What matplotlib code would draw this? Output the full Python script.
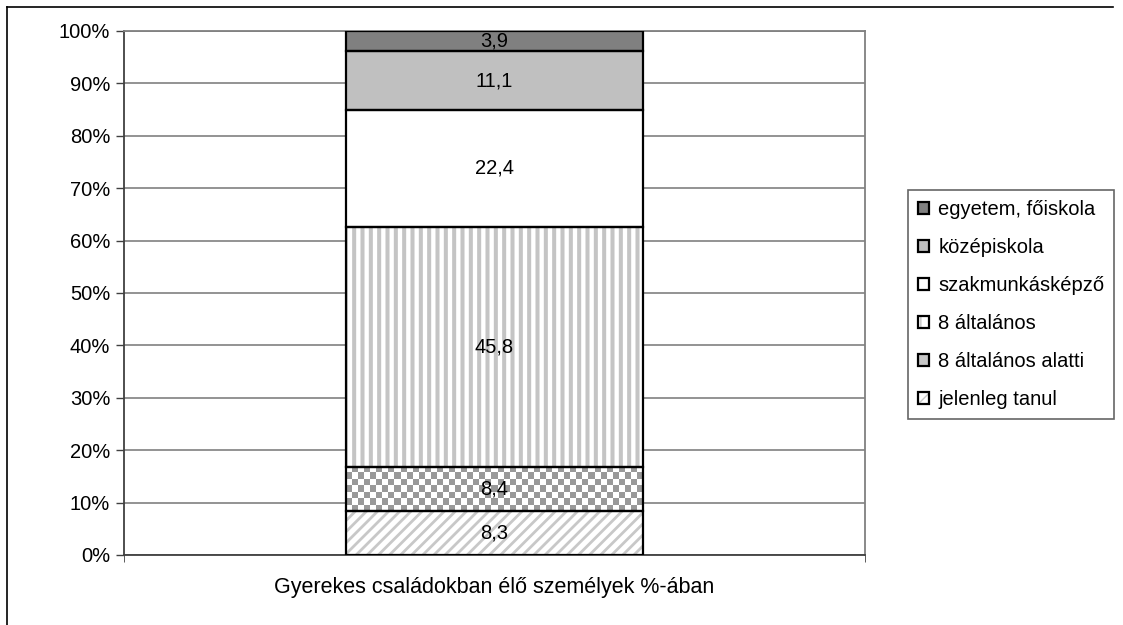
import numpy as np
import matplotlib
matplotlib.use("Agg")
import matplotlib.pyplot as plt
from matplotlib.patches import Patch
from matplotlib.lines import Line2D
from matplotlib.colors import ListedColormap

plt.rcParams['font.family'] = ['Liberation Sans', 'DejaVu Sans']

# --- adatok (alulról felfelé) ---
categories = ['Gyerekes családokban élő személyek %-ában']
segment_names = ['jelenleg tanul', '8 általános alatti', '8 általános',
                 'szakmunkásképző', 'középiskola', 'egyetem, főiskola']
segment_values = [8.3, 8.4, 45.8, 22.4, 11.1, 3.9]
value_labels = ['8,3', '8,4', '45,8', '22,4', '11,1', '3,9']
y_ticks = [0, 10, 20, 30, 40, 50, 60, 70, 80, 90, 100]

# stílusok: (kitöltés, mintázat, mintázat színe, mintázat vonalvastagság)
styles = [
    ('white', '///', '#c8c8c8', 2.0),
    ('white', 'checker', '#999999', 1.0),
    ('white', '||', '#c4c4c4', 2.9),
    ('white', '', 'black', 1.0),
    ('#c0c0c0', '', 'black', 1.0),
    ('#808080', '', 'black', 1.0),
]

FS = 14.5

fig = plt.figure(figsize=(11.23, 6.25), dpi=100)
ax = fig.add_axes([0.1104, 0.112, 0.6599, 0.8384])
ax.set_xlim(-0.5, 0.5)
ax.set_ylim(0, 100)

total = sum(segment_values)
pct = [v / total * 100 for v in segment_values]

handles = []
bottom = 0.0
for name, p, lab, (face, hatch, hcol, hlw) in zip(segment_names, pct, value_labels, styles):
    if hatch == 'checker':
        fill = ax.bar(0, p, bottom=bottom, width=0.4, color=face, linewidth=0, zorder=2)
        patch = fill[0]
        x0, w, y0, h = patch.get_x(), patch.get_width(), patch.get_y(), patch.get_height()
        (px0, py0), (px1, py1) = ax.transData.transform([(x0, y0), (x0 + w, y0 + h)])
        ncols = max(1, int(round((px1 - px0) / 6.0)))
        nrows = max(1, int(round((py1 - py0) / 6.0)))
        ii, jj = np.indices((nrows, ncols))
        board = (ii + jj) % 2
        im = ax.imshow(board, cmap=ListedColormap(['white', hcol]), extent=(x0, x0 + w, y0, y0 + h),
                       aspect='auto', interpolation='nearest', zorder=2.5)
        im.set_clip_path(patch)
        leg_fill = Patch(facecolor='#c8c8c8', edgecolor='none')
    else:
        with plt.rc_context({'hatch.linewidth': hlw}):
            fill = ax.bar(0, p, bottom=bottom, width=0.4, color=face, hatch=hatch if hatch else None,
                          edgecolor=hcol, linewidth=0, zorder=2)
        leg_fill = fill[0]
    outline = ax.bar(0, p, bottom=bottom, width=0.4, fill=False, edgecolor='black',
                     linewidth=1.6, zorder=3)
    ax.text(0, bottom + p / 2, lab, ha='center', va='center', fontsize=FS, zorder=4)
    handles.append(((leg_fill, outline[0]), name))
    bottom += p

# tengelyek
ax.set_yticks(y_ticks)
ax.set_yticklabels([f'{t}%' for t in y_ticks], fontsize=FS)
ax.yaxis.grid(True, color='#808080', linewidth=1.2)
ax.set_axisbelow(True)
ax.tick_params(axis='y', direction='out', length=6, width=1, color='#404040', pad=4)
ax.set_xticks([0])
ax.set_xticklabels(categories, fontsize=15.5)
ax.tick_params(axis='x', which='major', length=0, pad=16)
ax.set_xticks([-0.5, 0.5], minor=True)
ax.tick_params(axis='x', which='minor', direction='out', length=5, color='#404040')

ax.spines['left'].set_color('#404040')
ax.spines['bottom'].set_color('#404040')
ax.spines['top'].set_color('#808080')
ax.spines['right'].set_color('#808080')
for s in ax.spines.values():
    s.set_linewidth(1.3)

# jelmagyarázat (felülről lefelé)
handles = handles[::-1]
leg = fig.legend([h for h, _ in handles], [n for _, n in handles],
                 loc='upper left', bbox_to_anchor=(0.8085, 0.696), bbox_transform=fig.transFigure,
                 fontsize=FS, frameon=True, fancybox=False, borderaxespad=0,
                 handlelength=0.55, handleheight=0.55, handletextpad=0.45,
                 labelspacing=0.94, borderpad=0.5)
leg.get_frame().set_edgecolor('#404040')
leg.get_frame().set_linewidth(1.2)

# diagram kerete
fig.add_artist(Line2D([7 / 1123, 7 / 1123], [0, 1 - 7 / 625], transform=fig.transFigure,
                      color='black', linewidth=1.2))
fig.add_artist(Line2D([7 / 1123, 1113 / 1123], [1 - 7 / 625, 1 - 7 / 625], transform=fig.transFigure,
                      color='black', linewidth=1.2))

fig.savefig('out.png', dpi=100)
